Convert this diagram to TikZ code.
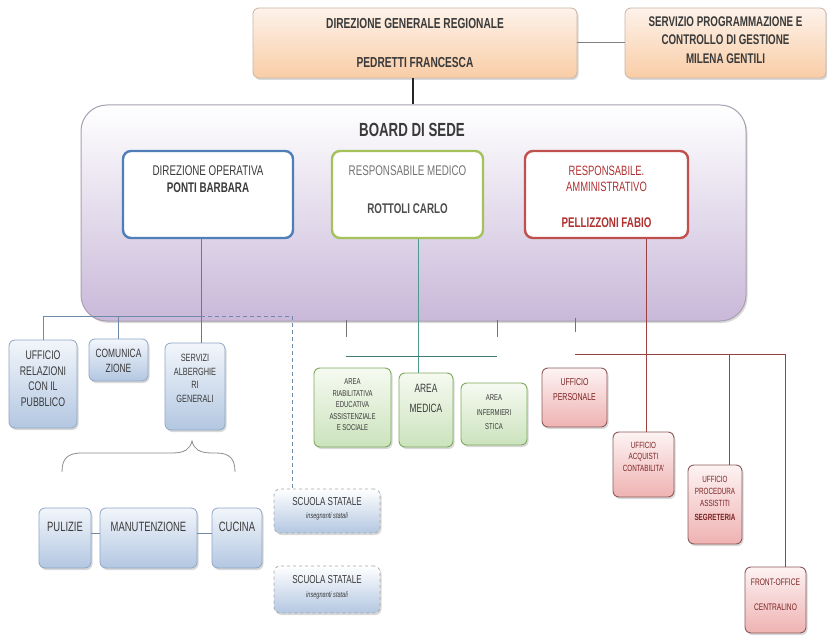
\documentclass[tikz,border=0pt]{standalone}
\usepackage{fontspec}
\setmainfont{Liberation Sans}[FakeStretch=0.7]
\usetikzlibrary{shadows}
\definecolor{orTop}{HTML}{FDF2EA}
\definecolor{orBot}{HTML}{F9CDA6}
\definecolor{orDraw}{HTML}{C9B5A5}
\definecolor{bdTop}{HTML}{FFFFFF}
\definecolor{bdBot}{HTML}{C9B8D9}
\definecolor{bdDraw}{HTML}{A8A0B0}
\definecolor{blTop}{HTML}{F2F6FB}
\definecolor{blBot}{HTML}{B3C7E1}
\definecolor{blDraw}{HTML}{8EA6C4}
\definecolor{grTop}{HTML}{F6FAF1}
\definecolor{grBot}{HTML}{CBE3BD}
\definecolor{grDraw}{HTML}{7FAA5E}
\definecolor{rdTop}{HTML}{FDF3F3}
\definecolor{rdBot}{HTML}{EFB2B2}
\definecolor{rdDraw}{HTML}{8C5A5A}
\definecolor{inBlue}{HTML}{4F7FB8}
\definecolor{inGreen}{HTML}{A5C25A}
\definecolor{inRed}{HTML}{C0504D}
\definecolor{txt}{HTML}{3A3A3A}
\definecolor{redtxt}{HTML}{B03030}
\definecolor{steel}{HTML}{6F8AA8}
\definecolor{teal}{HTML}{4F9A90}
\newcommand\fsz[2]{\fontsize{#1}{#2}\selectfont}
\begin{document}
\begin{tikzpicture}[x=1pt,y=-1pt,
  shad/.style={drop shadow={shadow xshift=1.5pt,shadow yshift=-2pt,opacity=0.25,fill=black!60}},
  basebox/.style={rounded corners=6pt,inner sep=0pt,shad},
  orbox/.style={basebox,draw=orDraw,line width=0.8pt,top color=orTop,bottom color=orBot},
  board/.style={rounded corners=26pt,inner sep=0pt,draw=bdDraw,line width=1pt,top color=bdTop,bottom color=bdBot,shad},
  innerbox/.style={rounded corners=8pt,inner sep=0pt,fill=white,line width=2.4pt},
  bbox/.style={basebox,draw=blDraw,line width=0.8pt,top color=blTop,bottom color=blBot},
  gbox/.style={basebox,draw=grDraw,line width=0.9pt,top color=grTop,bottom color=grBot},
  rbox/.style={basebox,draw=rdDraw,line width=0.9pt,top color=rdTop,bottom color=rdBot},
  sbox/.style={basebox,draw=black!35,dashed,line width=0.7pt,top color=white,bottom color=blBot},
  tx/.style={inner sep=0pt,align=center,text=txt},
  grayline/.style={draw=black!50,line width=1pt},
  steelline/.style={draw=steel,line width=0.9pt},
  blueline/.style={draw=inBlue,line width=0.9pt},
  tealline/.style={draw=teal,line width=0.9pt},
  greenline/.style={draw=teal!80!black,line width=1pt},
  redline/.style={draw=inRed!80!black,line width=0.9pt},
  tickline/.style={draw=black!55,line width=0.9pt},
  braceline/.style={draw=black!45,line width=0.8pt}
]
\useasboundingbox (0,0) rectangle (827,636);

% ---- top boxes
\node[orbox,minimum width=324pt,minimum height=70pt] (dg) at (415,43) {};
\node[orbox,minimum width=201pt,minimum height=70pt] (spg) at (725.5,43) {};
\node[tx,font=\bfseries\fsz{14.5}{17}] (tdg) at (415,43) {DIREZIONE GENERALE REGIONALE\\[22pt]PEDRETTI FRANCESCA};
\node[tx,font=\bfseries\fsz{14}{18.5}] (tspg) at (725.5,40) {SERVIZIO PROGRAMMAZIONE E\\CONTROLLO DI GESTIONE\\MILENA GENTILI};

% ---- board
\node[board,minimum width=665pt,minimum height=216pt] (board) at (413.5,213) {};
\node[tx,font=\bfseries\fsz{19}{22}] (tboard) at (412,130) {BOARD DI SEDE};

\node[innerbox,draw=inBlue,minimum width=170pt,minimum height=87pt] (dirop) at (208,194.5) {};
\node[innerbox,draw=inGreen,minimum width=151pt,minimum height=87pt] (resmed) at (407.5,194.5) {};
\node[innerbox,draw=inRed,minimum width=163pt,minimum height=87pt] (resamm) at (606.5,194.5) {};
\node[tx,font=\fsz{14}{17}] (tdirop) at (208,179.5) {DIREZIONE OPERATIVA\\\bfseries PONTI BARBARA};
\node[tx,font=\fsz{14}{17},text=black!55] (tresmed1) at (407.5,171) {RESPONSABILE MEDICO};
\node[tx,font=\bfseries\fsz{14}{17},text=black!70] (tresmed2) at (407.5,208.5) {ROTTOLI CARLO};
\node[tx,font=\fsz{13.5}{15.5},text=redtxt] (tresamm1) at (606.5,179) {RESPONSABILE.\\AMMINISTRATIVO};
\node[tx,font=\bfseries\fsz{14}{17},text=redtxt] (tresamm2) at (606.5,222.5) {PELLIZZONI FABIO};

% ---- left branch (blue)
\node[bbox,minimum width=68pt,minimum height=88pt] (rel) at (43,384) {};
\node[bbox,minimum width=59pt,minimum height=42pt] (com) at (118.5,360) {};
\node[bbox,minimum width=60pt,minimum height=87pt] (serv) at (195,386.5) {};
\node[tx,font=\fsz{12.5}{15.6}] (trel) at (43,378.5) {UFFICIO\\RELAZIONI\\CON IL\\PUBBLICO};
\node[tx,font=\fsz{12}{15}] (tcom) at (118.5,360.5) {COMUNICA\\ZIONE};
\node[tx,font=\fsz{10.5}{13.7}] (tserv) at (195,378.5) {SERVIZI\\ALBERGHIE\\RI\\GENERALI};

\node[bbox,minimum width=52pt,minimum height=60pt] (pul) at (65,538) {};
\node[bbox,minimum width=97pt,minimum height=60pt] (man) at (148.5,538) {};
\node[bbox,minimum width=50pt,minimum height=60pt] (cuc) at (237,538) {};
\node[tx,font=\fsz{13.5}{16}] (tpul) at (65,527) {PULIZIE};
\node[tx,font=\fsz{13.5}{16}] (tman) at (148.5,527) {MANUTENZIONE};
\node[tx,font=\fsz{13.5}{16}] (tcuc) at (237,527) {CUCINA};

\node[sbox,minimum width=106pt,minimum height=44pt] (sc1) at (327,511) {};
\node[sbox,minimum width=106pt,minimum height=47pt] (sc2) at (327,589.5) {};
\node[tx,font=\fsz{11.5}{14}] (tsc1) at (327,509) {SCUOLA STATALE\\[-1pt]{\itshape\fsz{8}{10}insegnanti statali}};
\node[tx,font=\fsz{11.5}{14}] (tsc2) at (327,587.5) {SCUOLA STATALE\\[0pt]{\itshape\fsz{8}{10}insegnanti statali}};

% ---- medical branch (green)
\node[gbox,minimum width=77pt,minimum height=79pt] (ria) at (352.5,407.5) {};
\node[gbox,minimum width=54pt,minimum height=74pt] (med) at (426,410) {};
\node[gbox,minimum width=66pt,minimum height=62pt] (inf) at (494,414) {};
\node[tx,font=\fsz{8.5}{11.5}] (tria) at (352.5,405) {AREA\\RIABILITATIVA\\EDUCATIVA\\ASSISTENZIALE\\E SOCIALE};
\node[tx,font=\fsz{12}{20}] (tmed) at (426,398) {AREA\\MEDICA};
\node[tx,font=\fsz{8.5}{14.5}] (tinf) at (494,412.5) {AREA\\INFERMIERI\\STICA};

% ---- administrative branch (red)
\node[rbox,minimum width=65pt,minimum height=59pt] (per) at (574.5,397.5) {};
\node[rbox,minimum width=61pt,minimum height=65pt] (acq) at (643.5,464.5) {};
\node[rbox,minimum width=54pt,minimum height=79pt] (proc) at (715,504.5) {};
\node[rbox,minimum width=61pt,minimum height=66pt] (fo) at (775.5,600) {};
\node[tx,font=\fsz{10}{15},text=redtxt!70!black] (tper) at (574.5,389.5) {UFFICIO\\PERSONALE};
\node[tx,font=\fsz{9}{11.5},text=redtxt!70!black] (tacq) at (643.5,456.5) {UFFICIO\\ACQUISTI\\CONTABILITA'};
\node[tx,font=\fsz{9}{11.8},text=redtxt!70!black] (tproc) at (715,498.5) {UFFICIO\\PROCEDURA\\ASSISTITI\\[2pt]\bfseries SEGRETERIA};
\node[tx,font=\fsz{9.5}{25},text=redtxt!70!black] (tfo) at (775.5,594.5) {FRONT-OFFICE\\CENTRALINO};

% ---- connectors
\coordinate (dgx) at (413,0);
\coordinate (bj) at (201,316);
\coordinate (dj) at (292,316);
\coordinate (gx) at (418,0);
\coordinate (g1) at (346,356);
\coordinate (g2) at (497,356);
\coordinate (rx) at (646,0);
\coordinate (r1) at (575,354);
\coordinate (r2) at (785,354);
\coordinate (r3) at (729,354);

\draw[grayline] (dg.east) -- (spg.west);
\draw[line width=2.2pt,black!85] (dg.south -| dgx) -- (board.north -| dgx);

\draw[blueline] (dirop.south -| bj) -- (serv.north -| bj);
\draw[steelline] (rel.north) |- (bj);
\draw[steelline] (com.north) -- (com.north |- bj);
\draw[steelline,dashed,dash pattern=on 4pt off 3pt] (bj) -- (dj) -- (sc1.north -| dj);

\draw[braceline] (62,472) .. controls (62,459) and (67,453) .. (82,453) -- (172,453)
  .. controls (185,453) and (190,449) .. (192,441)
  .. controls (194,449) and (199,453) .. (212,453) -- (216,453)
  .. controls (230,453) and (235,459) .. (235,472);
\draw[steelline] (pul.east |- 0,533) -- (man.west |- 0,533);
\draw[steelline] (man.east |- 0,533) -- (cuc.west |- 0,533);

\draw[tealline] (resmed.south -| gx) -- (med.north -| gx);
\draw[greenline] (g1) -- (g2);
\draw[tickline] (board.south -| g1) ++(0,-2) -- (g1 |- 0,337);
\draw[tickline] (board.south -| g2) ++(0,-2) -- (g2 |- 0,337);
\draw[tickline] (board.south -| r1) ++(0,-4) -- (r1 |- 0,332);

\draw[redline] (resamm.south -| rx) -- (acq.north -| rx);
\draw[redline] (r1) -- (r2);
\draw[redline] (r3) -- (proc.north -| r3);
\draw[redline] (r2) -- (fo.north -| r2);
\end{tikzpicture}
\end{document}
